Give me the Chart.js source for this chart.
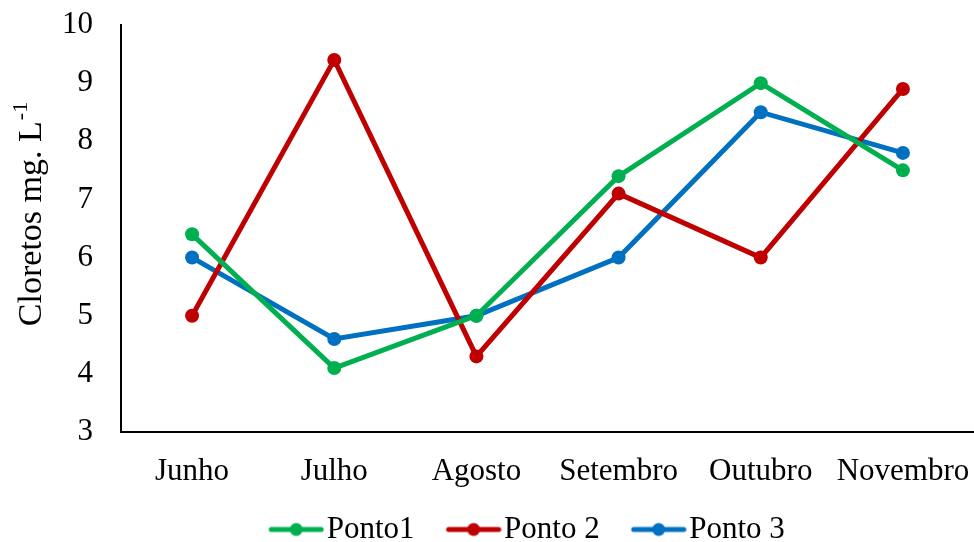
<!DOCTYPE html>
<html>
<head>
<meta charset="utf-8">
<script src="https://cdn.jsdelivr.net/npm/chart.js@4"></script>
<style>
  html, body { margin: 0; padding: 0; background: #fff; }
  #wrap { width: 974px; height: 542px; position: relative; }
</style>
</head>
<body>
<div id="wrap"><canvas id="chart"></canvas></div>
<script>
// Monthly chloride readings at three sampling points
const months = ['Junho', 'Julho', 'Agosto', 'Setembro', 'Outubro', 'Novembro'];
const ponto1 = [6.4, 4.1, 5.0, 7.4, 9.0, 7.5];
const ponto2 = [5.0, 9.4, 4.3, 7.1, 6.0, 8.9];
const ponto3 = [6.0, 4.6, 5.0, 6.0, 8.5, 7.8];
const seriesNames = ['Ponto1', 'Ponto 2', 'Ponto 3'];
const seriesColors = ['#00B050', '#C00000', '#0070C0'];

const FONT = '"Liberation Serif", "Times New Roman", serif';

// Legend swatch: short line with a dot in the middle. The canvas is wider
// on the left so the swatch sits close to its label text.
function swatch(color) {
  const c = document.createElement('canvas');
  c.width = 88; c.height = 16;
  const g = c.getContext('2d');
  const x0 = 33, x1 = 87;
  g.strokeStyle = color; g.lineWidth = 5; g.lineCap = 'round';
  g.beginPath(); g.moveTo(x0 + 2, 8); g.lineTo(x1 - 2, 8); g.stroke();
  g.fillStyle = color;
  g.beginPath(); g.arc((x0 + x1) / 2, 8, 6.5, 0, Math.PI * 2); g.fill();
  return c;
}

// Rotated y-axis title with a superscript exponent
const yTitle = {
  id: 'yTitle',
  afterDraw(chart) {
    const { ctx, chartArea } = chart;
    const cy = (chartArea.top + chartArea.bottom) / 2 - 14;
    ctx.save();
    ctx.translate(30, cy);
    ctx.rotate(-Math.PI / 2);
    ctx.fillStyle = '#000';
    ctx.textBaseline = 'alphabetic';
    const main = 'Cloretos mg. L';
    const sup = '-1';
    ctx.font = '34px ' + FONT;
    const w1 = ctx.measureText(main).width;
    ctx.font = '22px ' + FONT;
    const w2 = ctx.measureText(sup).width;
    const x0 = -(w1 + w2) / 2;
    ctx.font = '34px ' + FONT;
    ctx.fillText(main, x0, 11);
    ctx.font = '22px ' + FONT;
    ctx.fillText(sup, x0 + w1 + 1, -3);
    ctx.restore();
  }
};

const data = [ponto1, ponto2, ponto3];
new Chart(document.getElementById('chart'), {
  type: 'line',
  data: {
    labels: months,
    datasets: data.map((d, i) => ({
      label: seriesNames[i],
      data: d,
      borderColor: seriesColors[i],
      backgroundColor: seriesColors[i],
      borderWidth: 5,
      pointRadius: 7,
      pointHoverRadius: 7,
      pointBorderWidth: 0,
      pointStyle: 'circle',
      tension: 0,
      fill: false
    }))
  },
  options: {
    responsive: true,
    maintainAspectRatio: false,
    animation: false,
    layout: { autoPadding: false, padding: { left: 60, right: 0, top: 0, bottom: -13 } },
    plugins: {
      tooltip: { enabled: false },
      legend: {
        position: 'bottom',
        labels: {
          font: { family: FONT, size: 31 },
          color: '#000',
          usePointStyle: true,
          pointStyleWidth: 62,
          padding: 12,
          boxHeight: 16,
          generateLabels(chart) {
            return chart.data.datasets.map((ds, i) => ({
              text: ds.label,
              fillStyle: ds.borderColor,
              strokeStyle: ds.borderColor,
              lineWidth: 0,
              pointStyle: swatch(ds.borderColor),
              datasetIndex: i,
              hidden: false,
              fontColor: '#000'
            }));
          }
        }
      }
    },
    scales: {
      x: {
        offset: true,
        grid: { display: false, drawTicks: false },
        border: { display: true, color: '#000', width: 2 },
        ticks: { font: { family: FONT, size: 31 }, color: '#000', padding: 21, maxRotation: 0, autoSkip: false },
        afterFit(scale) {
          scale.height = 70;
          scale.paddingLeft = 0;
          scale.paddingRight = 0;
        }
      },
      y: {
        min: 3, max: 10,
        grid: { display: false, drawTicks: false },
        border: { display: true, color: '#000', width: 2 },
        ticks: { stepSize: 1, font: { family: FONT, size: 31 }, color: '#000', padding: 28 },
        afterFit(scale) {
          scale.width = 61;
          scale.paddingTop = 25;
          scale.paddingBottom = 0;
        }
      }
    }
  },
  plugins: [yTitle]
});
</script>
</body>
</html>
